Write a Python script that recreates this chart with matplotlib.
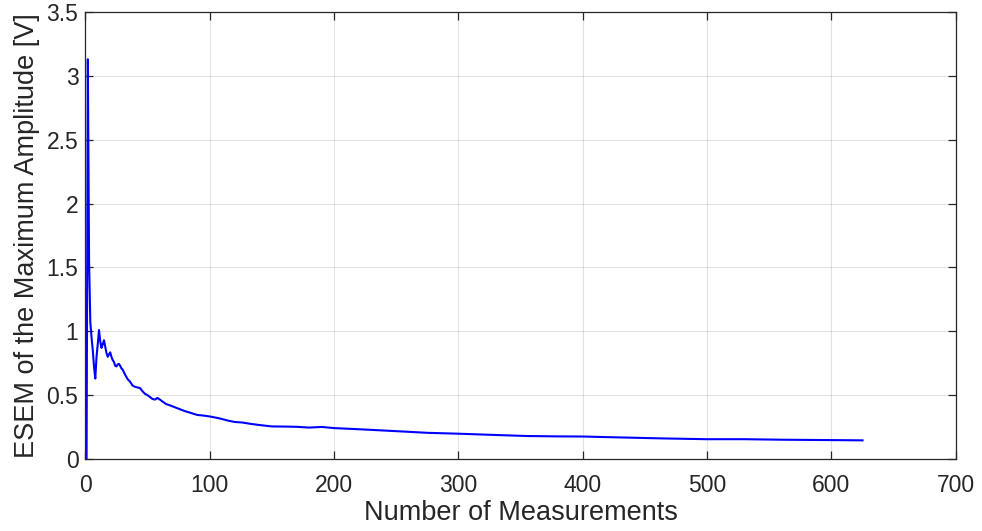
import matplotlib
matplotlib.use("Agg")
import matplotlib.pyplot as plt

n_meas = [1, 2, 3, 4, 5, 6, 7, 8, 9, 10, 11, 12, 13, 14, 15, 16, 17, 18, 19, 20,
          21, 22, 23, 24, 25, 26, 27, 28, 29, 30, 32, 34, 36, 38, 40, 42, 44, 46, 48, 50,
          52, 54, 56, 58, 60, 62, 65, 68, 72, 76, 80, 85, 90, 95, 100, 107, 115, 120, 126, 133,
          140, 150, 160, 170, 180, 190, 200, 220, 250, 275, 300, 330, 355, 380, 400, 425, 465, 500, 530, 560,
          600, 625]
esem = [0.0, 3.13, 1.55, 1.07, 0.95, 0.85, 0.72, 0.63, 0.80, 0.90, 1.01, 0.92, 0.87, 0.90, 0.93, 0.88, 0.83, 0.80, 0.82, 0.835,
        0.80, 0.775, 0.76, 0.73, 0.725, 0.74, 0.745, 0.73, 0.71, 0.70, 0.66, 0.625, 0.605, 0.575, 0.565, 0.56, 0.555, 0.53, 0.51, 0.50,
        0.485, 0.47, 0.465, 0.478, 0.465, 0.45, 0.43, 0.42, 0.405, 0.39, 0.375, 0.36, 0.345, 0.34, 0.333, 0.32, 0.30, 0.29, 0.286, 0.275,
        0.266, 0.255, 0.254, 0.252, 0.246, 0.251, 0.242, 0.233, 0.218, 0.205, 0.198, 0.188, 0.180, 0.177, 0.176, 0.170, 0.161, 0.155, 0.155, 0.151,
        0.148, 0.146]

x_ticks = [0, 100, 200, 300, 400, 500, 600, 700]
y_ticks = [0, 0.5, 1, 1.5, 2, 2.5, 3, 3.5]
y_tick_labels = ["0", "0.5", "1", "1.5", "2", "2.5", "3", "3.5"]

plt.rcParams['font.family'] = ["Liberation Sans", "DejaVu Sans"]

dark = (0.15, 0.15, 0.15)
fig = plt.figure(figsize=(9.82, 5.31), dpi=100)
ax = fig.add_axes([0.0869, 0.1356, 0.8864, 0.8418])
ax.plot(n_meas, esem, color=(0, 0, 1), linewidth=1.5)

ax.set_xlim(0, 700)
ax.set_ylim(0, 3.5)
ax.set_xticks(x_ticks)
ax.set_yticks(y_ticks)
ax.set_yticklabels(y_tick_labels)
ax.grid(True, color=dark, alpha=0.13, linewidth=0.8)
ax.set_axisbelow(True)
for s in ax.spines.values():
    s.set_color(dark)
    s.set_linewidth(0.9)
ax.tick_params(direction='in', top=True, right=True, length=6, width=0.9,
               colors=dark, labelsize=16.5)
ax.tick_params(axis='x', pad=11)
ax.tick_params(axis='y', pad=5)
ax.set_xlabel("Number of Measurements", fontsize=19.5, color=dark, labelpad=2)
ax.set_ylabel("ESEM of the Maximum Amplitude [V]", fontsize=19.5, color=dark, labelpad=5)

fig.savefig("out.png", dpi=100)
